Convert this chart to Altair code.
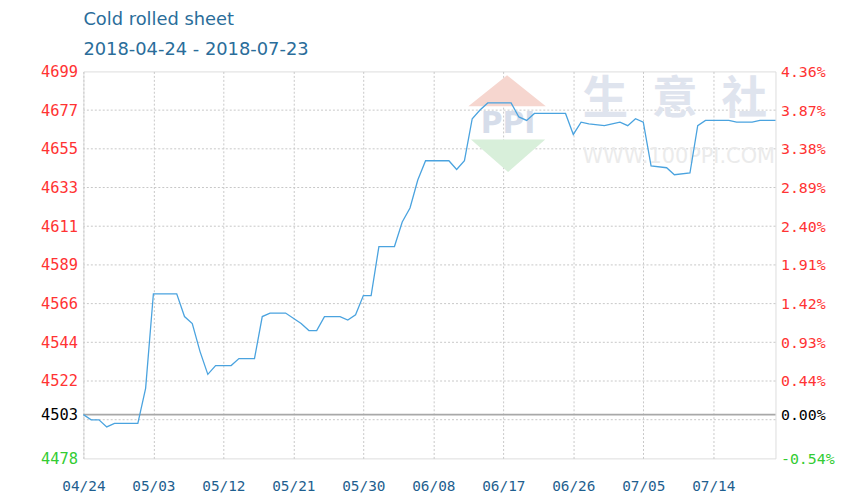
import altair as alt
import pandas as pd

title_text = "Cold rolled sheet"
subtitle_text = "2018-04-24 - 2018-07-23"

dates = [
    "2018-04-24", "2018-04-25", "2018-04-26", "2018-04-27", "2018-04-28", "2018-05-01",
    "2018-05-02", "2018-05-03", "2018-05-06", "2018-05-07", "2018-05-08", "2018-05-09",
    "2018-05-10", "2018-05-11", "2018-05-13", "2018-05-14", "2018-05-16", "2018-05-17",
    "2018-05-18", "2018-05-20", "2018-05-22", "2018-05-23", "2018-05-24", "2018-05-25",
    "2018-05-27", "2018-05-28", "2018-05-29", "2018-05-30", "2018-05-31", "2018-06-01",
    "2018-06-03", "2018-06-04", "2018-06-05", "2018-06-06", "2018-06-07", "2018-06-10",
    "2018-06-11", "2018-06-12", "2018-06-13", "2018-06-14", "2018-06-15", "2018-06-18",
    "2018-06-19", "2018-06-20", "2018-06-21", "2018-06-25", "2018-06-26", "2018-06-27",
    "2018-06-28", "2018-06-30", "2018-07-01", "2018-07-02", "2018-07-03", "2018-07-04",
    "2018-07-05", "2018-07-06", "2018-07-08", "2018-07-09", "2018-07-11", "2018-07-12",
    "2018-07-13", "2018-07-16", "2018-07-17", "2018-07-19", "2018-07-20", "2018-07-22",
]
prices = [
    4503, 4500, 4500, 4496, 4498, 4498,
    4518, 4572, 4572, 4559, 4555, 4539,
    4526, 4531, 4531, 4535, 4535, 4559,
    4561, 4561, 4555, 4551, 4551, 4559,
    4559, 4557, 4560, 4571, 4571, 4599,
    4599, 4613, 4621, 4637, 4648, 4648,
    4643, 4648, 4672, 4677, 4681, 4681,
    4673, 4671, 4675, 4675, 4663, 4670,
    4669, 4668, 4669, 4670, 4668, 4672,
    4670, 4645, 4644, 4640, 4641, 4668,
    4671, 4671, 4670, 4670, 4671, 4671,
]

x_tick_dates = ["2018-04-24", "2018-05-03", "2018-05-12", "2018-05-21", "2018-05-30",
                "2018-06-08", "2018-06-17", "2018-06-26", "2018-07-05", "2018-07-14"]
x_domain = ["2018-04-24", "2018-07-22"]

y_domain = [4478, 4699]
base_value = 4503
y_tick_values = [4478, 4503, 4522.2, 4544.3, 4566.4, 4588.5, 4610.6, 4632.7, 4654.8, 4676.9, 4699]
y_left_labels = ["4478", "4503", "4522", "4544", "4566", "4589", "4611", "4633", "4655", "4677", "4699"]
y_right_labels = ["-0.54%", "0.00%", "0.44%", "0.93%", "1.42%", "1.91%", "2.40%", "2.89%",
                  "3.38%", "3.87%", "4.36%"]
grid_values = [4500.1, 4522.2, 4544.3, 4566.4, 4588.5, 4610.6, 4632.7, 4654.8, 4676.9]

RED = "#ff3333"
GREEN = "#33cc33"
BLUE_TXT = "#1f5f8f"
TITLE_COL = "#2a6d9a"
LINE_COL = "#4aa3df"
MONO = "DejaVu Sans Mono"


def dt(s):
    y, m, d = (int(p) for p in s.split("-"))
    return alt.DateTime(year=y, month=m, date=d)


def label_expr(labels):
    expr = "''"
    for v, l in reversed(list(zip(y_tick_values, labels))):
        expr = f"(abs(datum.value - {v}) < 0.01 ? '{l}' : {expr})"
    return expr


label_color = {
    "condition": [
        {"test": f"datum.value > {base_value} + 0.01", "value": RED},
        {"test": f"datum.value < {base_value} - 0.01", "value": GREEN},
    ],
    "value": "#000000",
}

df = pd.DataFrame({"date": [d.replace("-", "/") for d in dates], "price": prices})
grid_df = pd.DataFrame({"v": grid_values})
base_df = pd.DataFrame({"v": [base_value]})

yscale = alt.Scale(domain=y_domain, nice=False, zero=False)
xscale = alt.Scale(domain=[dt(x_domain[0]), dt(x_domain[1])])

x_enc = alt.X(
    "date:T",
    scale=xscale,
    axis=alt.Axis(
        values=[dt(s) for s in x_tick_dates], format="%m/%d", title=None,
        grid=True, gridDash=[2, 2], gridColor="#c8c8c8", gridWidth=1,
        ticks=False, domain=False, labelColor=BLUE_TXT, labelFont=MONO,
        labelFontSize=14.5, labelPadding=21, labelFlush=False,
    ),
)

# horizontal dotted grid
hgrid = alt.Chart(grid_df).mark_rule(color="#c8c8c8", strokeDash=[2, 2], strokeWidth=1).encode(
    y=alt.Y("v:Q", scale=yscale, axis=None)
)

# watermark
wm_style = dict(font="Noto Sans CJK SC", fontSize=46, fontWeight="bold", color="#dfe4ee",
                align="center", baseline="middle")
wm1 = alt.Chart(base_df).mark_text(text="生", **wm_style).encode(x=alt.value(526), y=alt.value(29))
wm2 = alt.Chart(base_df).mark_text(text="意", **wm_style).encode(x=alt.value(596), y=alt.value(29))
wm3 = alt.Chart(base_df).mark_text(text="社", **wm_style).encode(x=alt.value(666), y=alt.value(29))
wm_url = alt.Chart(base_df).mark_text(text="WWW.100PPI.COM", font="DejaVu Sans", fontSize=21,
                                      color="#ebebeb", align="center", baseline="middle").encode(
    x=alt.value(600), y=alt.value(86))
tri_up = alt.Chart(base_df).mark_point(shape="M-1,0.4L0,-0.4L1,0.4Z", size=6084, filled=True,
                                       color="#f6d6cf", opacity=1, strokeWidth=0).encode(
    x=alt.value(427), y=alt.value(19.5))
tri_dn = alt.Chart(base_df).mark_point(shape="M-1,-0.44L1,-0.44L0,0.44Z", size=5600, filled=True,
                                       color="#d8efda", opacity=1, strokeWidth=0).encode(
    x=alt.value(428), y=alt.value(85))
wm_ppi = alt.Chart(base_df).mark_text(text="PPI", font="DejaVu Sans", fontSize=30, fontWeight="bold",
                                      color="#d6ddea", align="center", baseline="middle").encode(
    x=alt.value(428), y=alt.value(53))

# baseline with right axis
base = alt.Chart(base_df).mark_rule(color="#a8a8a8", strokeWidth=2).encode(
    y=alt.Y("v:Q", scale=yscale, axis=alt.Axis(
        orient="right", values=y_tick_values, labelExpr=label_expr(y_right_labels),
        labelColor=label_color, labelFont=MONO, labelFontSize=15, labelPadding=5,
        ticks=False, domain=False, grid=False, title=None,
    ))
)

line = alt.Chart(df).mark_line(color=LINE_COL, strokeWidth=1.3).encode(
    x=x_enc,
    y=alt.Y("price:Q", scale=yscale, axis=alt.Axis(
        orient="left", values=y_tick_values, labelExpr=label_expr(y_left_labels),
        labelColor=label_color, labelFont=MONO, labelFontSize=15.5, labelPadding=6,
        ticks=False, domain=False, grid=False, title=None,
    )),
)

title = alt.Chart(base_df).mark_text(text=title_text, font="DejaVu Sans", fontSize=18,
                                     color=TITLE_COL, align="left", baseline="alphabetic").encode(
    x=alt.value(0), y=alt.value(-47))
subtitle = alt.Chart(base_df).mark_text(text=subtitle_text, font="DejaVu Sans", fontSize=18,
                                        color=TITLE_COL, align="left", baseline="alphabetic").encode(
    x=alt.value(0), y=alt.value(-17))

chart = alt.layer(
    hgrid, tri_up, tri_dn, wm_ppi, wm1, wm2, wm3, wm_url, base, line, title, subtitle
).resolve_scale(y="independent").properties(
    width=697.5, height=390,
    autosize=alt.AutoSizeParams(type="none"),
    padding={"left": 76, "top": 62, "right": 62, "bottom": 40},
).configure_view(stroke="#a0a0a0", strokeWidth=1.5).configure(background="white")

chart.save("out.html", embed_options={"renderer": "svg", "actions": False})
